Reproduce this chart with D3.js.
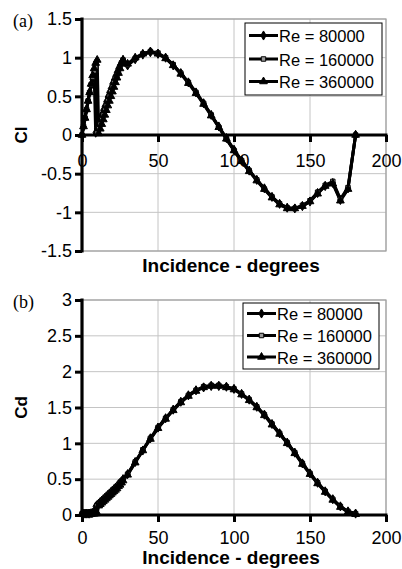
<!DOCTYPE html>
<html><head><meta charset="utf-8">
<script src="https://cdn.jsdelivr.net/npm/d3@7"></script>
<style>html,body{margin:0;padding:0;background:#fff;}svg{display:block;}</style>
</head><body>
<svg id="c" width="402" height="569"></svg>
<script>
const alpha = [0,1,2,3,4,5,6,7,8,9,10,11,12,13,14,15,16,17,18,19,20,21,22,23,24,25,26,27,
  30,35,40,45,50,55,60,65,70,75,80,85,90,95,100,105,110,115,120,125,130,135,140,145,150,155,160,165,170,175,180];
const seriesNames = ["Re = 80000","Re = 160000","Re = 360000"];

const cl80 = [0,0.11,0.22,0.33,0.44,0.55,0.64,0.72,0.77,0.03,0.08,0.14,0.2,0.26,0.32,0.37,0.43,0.49,0.55,0.6,0.66,0.71,0.76,0.81,0.86,0.9,0.94,0.97,
  0.90,0.98,1.04,1.07,1.05,1.00,0.90,0.80,0.68,0.55,0.41,0.26,0.11,-0.04,-0.19,-0.33,-0.46,-0.58,-0.69,-0.80,-0.89,-0.94,-0.95,-0.92,-0.86,-0.75,-0.66,-0.62,-0.84,-0.69,0];
const cl160 = [0,0.11,0.22,0.33,0.44,0.55,0.65,0.75,0.83,0.88,0.03,0.08,0.14,0.2,0.26,0.32,0.38,0.44,0.5,0.56,0.62,0.68,0.73,0.78,0.83,0.88,0.93,0.97,
  0.91,0.99,1.05,1.08,1.06,1.00,0.91,0.80,0.68,0.55,0.41,0.26,0.10,-0.05,-0.20,-0.33,-0.46,-0.58,-0.70,-0.80,-0.89,-0.94,-0.95,-0.91,-0.85,-0.74,-0.65,-0.60,-0.83,-0.68,0];
const cl360 = [0,0.11,0.22,0.33,0.44,0.55,0.66,0.77,0.86,0.93,0.97,0.02,0.08,0.14,0.2,0.26,0.32,0.38,0.44,0.5,0.56,0.62,0.68,0.74,0.8,0.86,0.92,0.97,
  0.92,1.00,1.05,1.08,1.05,0.99,0.90,0.79,0.67,0.54,0.40,0.25,0.10,-0.05,-0.20,-0.34,-0.47,-0.59,-0.70,-0.81,-0.90,-0.95,-0.95,-0.92,-0.86,-0.76,-0.66,-0.63,-0.85,-0.70,0];

const cd80 = [0.02,0.02,0.02,0.02,0.02,0.02,0.025,0.03,0.04,0.12,0.14,0.16,0.18,0.2,0.22,0.24,0.26,0.28,0.3,0.32,0.34,0.36,0.38,0.4,0.43,0.45,0.47,0.5,
  0.57,0.74,0.90,1.07,1.22,1.35,1.47,1.58,1.67,1.74,1.78,1.80,1.80,1.79,1.76,1.69,1.61,1.51,1.40,1.27,1.14,1.01,0.87,0.72,0.58,0.45,0.33,0.22,0.12,0.05,0.02];
const cd160 = [0.015,0.015,0.015,0.016,0.017,0.018,0.02,0.022,0.025,0.03,0.13,0.15,0.17,0.19,0.21,0.23,0.25,0.27,0.29,0.31,0.33,0.35,0.37,0.39,0.42,0.44,0.46,0.49,
  0.57,0.74,0.91,1.07,1.22,1.35,1.47,1.58,1.67,1.74,1.79,1.81,1.81,1.79,1.76,1.69,1.61,1.51,1.40,1.27,1.14,1.01,0.87,0.72,0.58,0.45,0.33,0.22,0.12,0.05,0.02];
const cd360 = [0.01,0.01,0.01,0.011,0.012,0.013,0.014,0.016,0.018,0.02,0.024,0.13,0.15,0.17,0.19,0.21,0.23,0.25,0.27,0.29,0.31,0.33,0.35,0.37,0.4,0.42,0.45,0.48,
  0.56,0.73,0.90,1.06,1.21,1.34,1.46,1.57,1.66,1.73,1.78,1.80,1.80,1.78,1.75,1.68,1.60,1.50,1.39,1.26,1.13,1.00,0.86,0.71,0.57,0.44,0.32,0.21,0.11,0.04,0.01];

const xTicks = [0,50,100,150,200];
const clTicks = [-1.5,-1,-0.5,0,0.5,1,1.5];
const cdTicks = [0,0.5,1,1.5,2,2.5,3];

const svg = d3.select("#c");
const sans = "'Liberation Sans', Arial, Helvetica, sans-serif";
const symbols = [d3.symbolDiamond, d3.symbolSquare, d3.symbolTriangle];
const symSize = [24, 20, 26];
const symFill = ["#000", "#999", "#000"];

function panel(o) {
  const g = svg.append("g");
  const x = d3.scaleLinear().domain([0,200]).range([82,386]);
  const y = d3.scaleLinear().domain(o.ydom).range([o.bottom, o.top]);
  // grid
  g.selectAll(".vg").data(xTicks.slice(1)).join("line")
    .attr("x1", d=>x(d)).attr("x2", d=>x(d)).attr("y1", o.top).attr("y2", o.bottom)
    .attr("stroke", "#c4c4c4").attr("stroke-width", 1);
  g.selectAll(".hg").data(o.yticks).join("line")
    .attr("x1", x(0)).attr("x2", x(200)).attr("y1", d=>y(d)).attr("y2", d=>y(d))
    .attr("stroke", "#c4c4c4").attr("stroke-width", 1);
  g.append("rect").attr("x", x(0)).attr("y", o.top).attr("width", x(200)-x(0)).attr("height", o.bottom-o.top)
    .attr("fill", "none").attr("stroke", "#a0a0a0").attr("stroke-width", 1.2);

  // series
  const line = d3.line().x((d,i)=>x(alpha[i])).y(d=>y(d));
  o.series.forEach((s, k) => {
    g.append("path").attr("d", line(s)).attr("fill", "none").attr("stroke", "#000")
      .attr("stroke-width", 3).attr("stroke-linejoin", "round");
  });
  o.series.forEach((s, k) => {
    g.selectAll(null).data(s).join("path")
      .attr("d", d3.symbol().type(symbols[k]).size(symSize[k]))
      .attr("transform", (d,i)=>`translate(${x(alpha[i])},${y(d)})`)
      .attr("fill", symFill[k]).attr("stroke", "#000").attr("stroke-width", 1);
  });

  // axes
  const xAxisY = y(o.xAxisAt);
  const ax = g.append("g").attr("transform", `translate(0,${xAxisY})`)
    .call(d3.axisBottom(x).tickValues(xTicks).tickSize(7).tickFormat(d3.format("d")).tickPadding(o.xpad));
  ax.select(".domain").remove();
  ax.selectAll(".tick line").attr("stroke", "#000").attr("stroke-width", 3);
  ax.selectAll(".tick text").attr("font-family", sans).attr("font-size", 18).attr("fill", "#000")
    .attr("dy", "0.71em");
  g.append("line").attr("x1", x(0)-1.5).attr("x2", x(200)+1.5).attr("y1", xAxisY).attr("y2", xAxisY)
    .attr("stroke", "#000").attr("stroke-width", 3.2);

  const ay = g.append("g").attr("transform", `translate(${x(0)},0)`)
    .call(d3.axisLeft(y).tickValues(o.yticks).tickSize(7).tickPadding(3).tickFormat(d=>String(d)));
  ay.select(".domain").remove();
  ay.selectAll(".tick line").attr("stroke", "#000").attr("stroke-width", 3);
  ay.selectAll(".tick text").attr("font-family", sans).attr("font-size", 18).attr("fill", "#000");
  g.append("line").attr("x1", x(0)).attr("x2", x(0)).attr("y1", o.top-1.5).attr("y2", o.bottom+1.5)
    .attr("stroke", "#000").attr("stroke-width", 3.2);

  // titles
  g.append("text").attr("x", 231).attr("y", o.xTitleY).attr("text-anchor", "middle")
    .attr("font-family", sans).attr("font-weight", "bold").attr("font-size", 19).text("Incidence - degrees");
  g.append("text").attr("transform", `translate(27,${(o.top+o.bottom)/2}) rotate(-90)`).attr("text-anchor", "middle")
    .attr("font-family", sans).attr("font-weight", "bold").attr("font-size", 17).text(o.ytitle);
  g.append("text").attr("x", 13).attr("y", o.top+8).attr("font-family", "'Liberation Serif', 'Times New Roman', serif")
    .attr("font-size", 18).text(o.label);

  // legend
  const L = o.legend;
  g.append("rect").attr("x", L.x).attr("y", L.y).attr("width", L.w).attr("height", L.h)
    .attr("fill", "#fff").attr("stroke", "#000").attr("stroke-width", 1);
  seriesNames.forEach((n, k) => {
    const cy = L.rows[k];
    g.append("line").attr("x1", L.x+4).attr("x2", L.x+33).attr("y1", cy).attr("y2", cy)
      .attr("stroke", "#000").attr("stroke-width", 3);
    g.append("path").attr("d", d3.symbol().type(symbols[k]).size(symSize[k])())
      .attr("transform", `translate(${L.x+18.5},${cy})`).attr("fill", symFill[k]).attr("stroke", "#000").attr("stroke-width", 1);
    g.append("text").attr("x", L.x+34).attr("y", cy+6.5).attr("font-family", sans).attr("font-size", 16.5).text(n);
  });
}

panel({ydom:[-1.5,1.5], top:19, bottom:251, yticks:clTicks, xAxisAt:0, xpad:12, series:[cl80,cl160,cl360],
  xTitleY:272, ytitle:"Cl", label:"(a)",
  legend:{x:245, y:23, w:137, h:72, rows:[35.5, 59, 81.5]}});
panel({ydom:[0,3], top:300, bottom:515, yticks:cdTicks, xAxisAt:0, xpad:9, series:[cd80,cd160,cd360],
  xTitleY:563.5, ytitle:"Cd", label:"(b)",
  legend:{x:243, y:303, w:136, h:66, rows:[313.5, 335.5, 357]}});
</script>
</body></html>
